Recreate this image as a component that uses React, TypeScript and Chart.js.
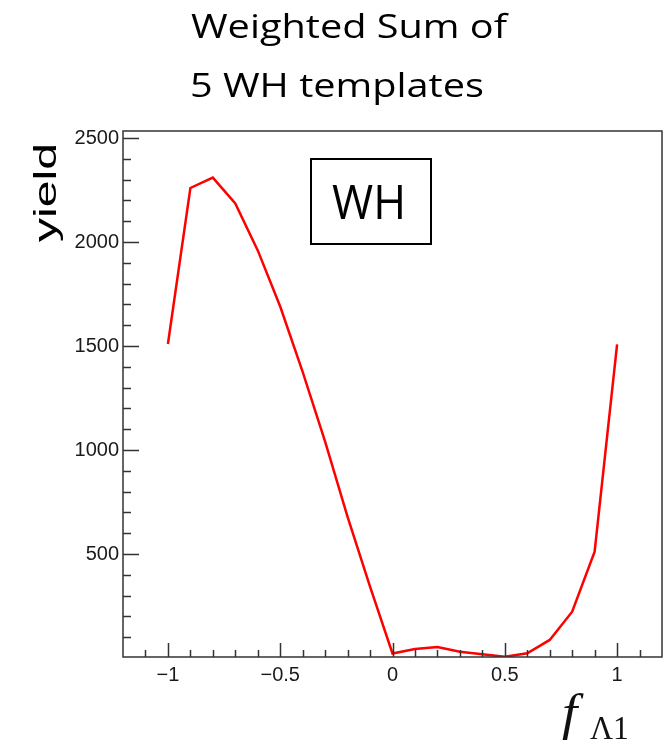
import { useEffect, useRef } from "react";
import { Chart, registerables } from "chart.js";

Chart.register(...registerables);

// ---- data ----
const fLambda1 = [-1, -0.9, -0.8, -0.7, -0.6, -0.5, -0.4, -0.3, -0.2, -0.1, 0, 0.1, 0.2, 0.3, 0.4, 0.5, 0.6, 0.7, 0.8, 0.9, 1];
const yieldValues = [1510, 2260, 2310, 2186, 1960, 1690, 1376, 1040, 679, 343, 22, 43, 53, 30, 18, 6, 23, 87, 223, 511, 1508];
const xMajorTicks = [-1, -0.5, 0, 0.5, 1];
const yMajorTicks = [500, 1000, 1500, 2000, 2500];
const xMinorStep = 0.1;
const yMinorStep = 100;
const titleLines = ["Weighted Sum of", "5 WH templates"];
const yTitle = "yield";
const boxLabel = "WH";

const X_MIN = -1.2;
const X_MAX = 1.2;
const Y_MIN = 5;
const Y_MAX = 2534;

const fmtX = (v: number) => {
  const s = String(Math.abs(v));
  return v < 0 ? "\u2212" + s : s;
};

const decorPlugin = {
  id: "rootDecor",
  afterDraw(chart: any) {
    const ctx: CanvasRenderingContext2D = chart.ctx;
    const { left, right, top, bottom } = chart.chartArea;
    const xs = chart.scales.x;
    const ys = chart.scales.y;
    ctx.save();
    // frame
    ctx.strokeStyle = "#333";
    ctx.lineWidth = 1.5;
    ctx.strokeRect(left, top, right - left, bottom - top);
    // x ticks
    ctx.beginPath();
    const nx = Math.round((X_MAX - X_MIN) / xMinorStep);
    for (let i = 0; i <= nx; i++) {
      const v = X_MIN + i * xMinorStep;
      const isMajor = xMajorTicks.some((m) => Math.abs(m - v) < 1e-6);
      const px = Math.round(xs.getPixelForValue(v)) + 0.5;
      if (px <= left + 1 || px >= right - 1) continue;
      const len = isMajor ? 14 : 7;
      ctx.moveTo(px, bottom);
      ctx.lineTo(px, bottom - len);
    }
    // y ticks
    for (let v = yMinorStep; v <= Y_MAX; v += yMinorStep) {
      const isMajor = yMajorTicks.includes(v);
      const py = Math.round(ys.getPixelForValue(v)) + 0.5;
      if (py <= top + 1 || py >= bottom - 1) continue;
      const len = isMajor ? 16 : 8;
      ctx.moveTo(left, py);
      ctx.lineTo(left + len, py);
    }
    ctx.stroke();

    // title
    ctx.fillStyle = "#000";
    ctx.textBaseline = "alphabetic";
    ctx.textAlign = "left";
    ctx.font = '33px "Open Sans"';
    const w1 = ctx.measureText(titleLines[0]).width;
    const sx = 316 / w1;
    ctx.save();
    ctx.translate(191, 38);
    ctx.scale(sx, 1);
    ctx.fillText(titleLines[0], 0, 0);
    ctx.restore();
    ctx.save();
    ctx.translate(190, 97);
    ctx.scale(sx, 1);
    ctx.fillText(titleLines[1], 0, 0);
    ctx.restore();

    // y title
    ctx.font = '31px "Liberation Sans"';
    const wy = ctx.measureText(yTitle).width;
    ctx.save();
    ctx.translate(56, 192.5);
    ctx.rotate(-Math.PI / 2);
    ctx.scale(99 / wy, 1);
    ctx.textAlign = "center";
    ctx.fillStyle = "#000";
    ctx.fillText(yTitle, 0, 0);
    ctx.restore();

    // x title f_{Λ1}
    ctx.fillStyle = "#111";
    ctx.textAlign = "left";
    ctx.font = 'italic 50px "Liberation Serif"';
    ctx.save();
    ctx.translate(562, 729);
    ctx.scale(1.1, 1);
    ctx.fillText("f", 0, 0);
    ctx.restore();
    ctx.font = '34px "Liberation Serif"';
    const wl = ctx.measureText("\u039B1").width;
    ctx.save();
    ctx.translate(590, 739);
    ctx.scale(39 / wl, 1);
    ctx.fillText("\u039B1", 0, 0);
    ctx.restore();

    // WH box
    ctx.strokeStyle = "#000";
    ctx.lineWidth = 2;
    ctx.strokeRect(311, 159, 120, 85);
    ctx.fillStyle = "#000";
    ctx.font = '47px "Open Sans"';
    const ww = ctx.measureText(boxLabel).width;
    ctx.save();
    ctx.translate(332, 219);
    ctx.scale(74 / ww, 1);
    ctx.fillText(boxLabel, 0, 0);
    ctx.restore();

    ctx.restore();
  },
};

export default function App() {
  const ref = useRef<HTMLCanvasElement>(null);
  useEffect(() => {
    if (!ref.current) return;
    const chart = new Chart(ref.current, {
      type: "line",
      data: {
        datasets: [
          {
            label: "WH",
            data: fLambda1.map((x, i) => ({ x, y: yieldValues[i] })),
            borderColor: "#ff0000",
            borderWidth: 2.5,
            pointRadius: 0,
            tension: 0,
            fill: false,
          },
        ],
      },
      options: {
        animation: false,
        responsive: false,
        maintainAspectRatio: false,
        layout: { padding: { top: 131, right: 9, left: 0, bottom: 0 } },
        plugins: {
          legend: { display: false },
          title: { display: false },
          tooltip: { enabled: false },
        },
        scales: {
          x: {
            type: "linear",
            min: X_MIN,
            max: X_MAX,
            afterBuildTicks: (s: any) => {
              s.ticks = xMajorTicks.map((v) => ({ value: v }));
            },
            afterFit: (s: any) => {
              s.height = 87;
            },
            ticks: {
              callback: (v: any) => fmtX(Number(v)),
              font: { family: "Liberation Sans", size: 20 },
              color: "#1a1a1a",
              padding: 6,
              maxRotation: 0,
              autoSkip: false,
            },
            grid: { display: false, drawTicks: false },
            border: { display: false },
          },
          y: {
            type: "linear",
            min: Y_MIN,
            max: Y_MAX,
            afterBuildTicks: (s: any) => {
              s.ticks = yMajorTicks.map((v) => ({ value: v }));
            },
            afterFit: (s: any) => {
              s.width = 123;
            },
            ticks: {
              callback: (v: any) => String(v),
              font: { family: "Liberation Sans", size: 20 },
              color: "#1a1a1a",
              padding: 4,
              autoSkip: false,
            },
            grid: { display: false, drawTicks: false },
            border: { display: false },
          },
        },
      },
      plugins: [decorPlugin],
    });
    return () => chart.destroy();
  }, []);
  return (
    <div style={{ position: "fixed", left: 0, top: 0, width: 671, height: 744, background: "#fff" }}>
      <canvas ref={ref} width={671} height={744} style={{ display: "block" }} />
    </div>
  );
}
